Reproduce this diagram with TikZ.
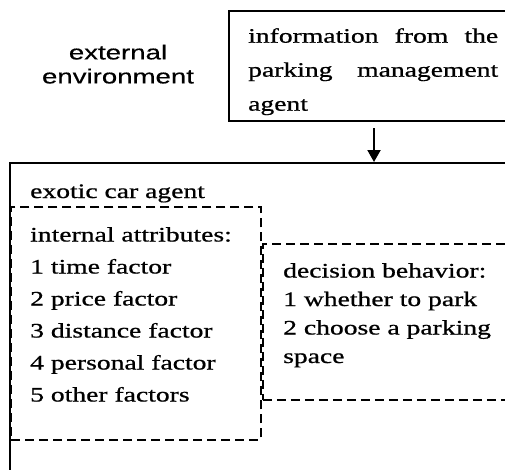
\documentclass[tikz,border=0pt]{standalone}
\usepackage{fontspec}
\setmainfont[FakeStretch=1.34,FakeBold=0.8]{Liberation Serif}
\newfontfamily\envfont[FakeStretch=1.36,FakeBold=0.5]{Liberation Sans}
\usetikzlibrary{arrows.meta,positioning}

\begin{document}
\begin{tikzpicture}[x=1pt,y=-1pt,
  solidbox/.style={rectangle, draw=black, line width=2pt, inner sep=0pt, anchor=north west},
  dashbox/.style={rectangle, draw=black, line width=1.8pt, dash pattern=on 9pt off 5pt,
                  inner sep=0pt, anchor=north west},
  txt/.style={inner sep=0pt, anchor=north west, align=left, font=\fontsize{20.6}{32}\selectfont},
  arrow/.style={-{Triangle[width=13pt,length=12pt]}, line width=2pt}
]
\clip (0,0) rectangle (505,469);
% boxes
\node[solidbox, minimum width=290pt, minimum height=110pt] (info) at (228,10) {};
\node[solidbox, minimum width=520pt, minimum height=340pt] (agent) at (9,162) {};
\node[dashbox, minimum width=249.5pt, minimum height=233pt] (attrbox) at (10.5,206) {};
\node[dashbox, minimum width=260pt, minimum height=156pt] (decbox) at (262,243) {};
% texts
\node[txt, align=center, font=\envfont\fontsize{20.3}{24}\selectfont, anchor=north] (env) at (118,44.5) {external\\environment};
\node[txt, text width=250pt, align=justify, font=\fontsize{20.6}{34}\selectfont] (infotext) at (248,28)
  {information from the\linebreak parking management\linebreak agent};
\node[txt, anchor=base west] (agentlabel) at (30,198) {exotic car agent};
\node[txt] (attrtext) at (30,227) {internal attributes:\\1 time factor\\2 price factor\\3 distance factor\\4 personal factor\\5 other factors};
\node[txt, font=\fontsize{20.6}{28.5}\selectfont] (dectext) at (283,263) {decision behavior:\\1 whether to park\\2 choose a parking\\space};
% connector
\draw[arrow] ([yshift=-6pt]info.south) -- (info.south |- agent.north);
\end{tikzpicture}
\end{document}
